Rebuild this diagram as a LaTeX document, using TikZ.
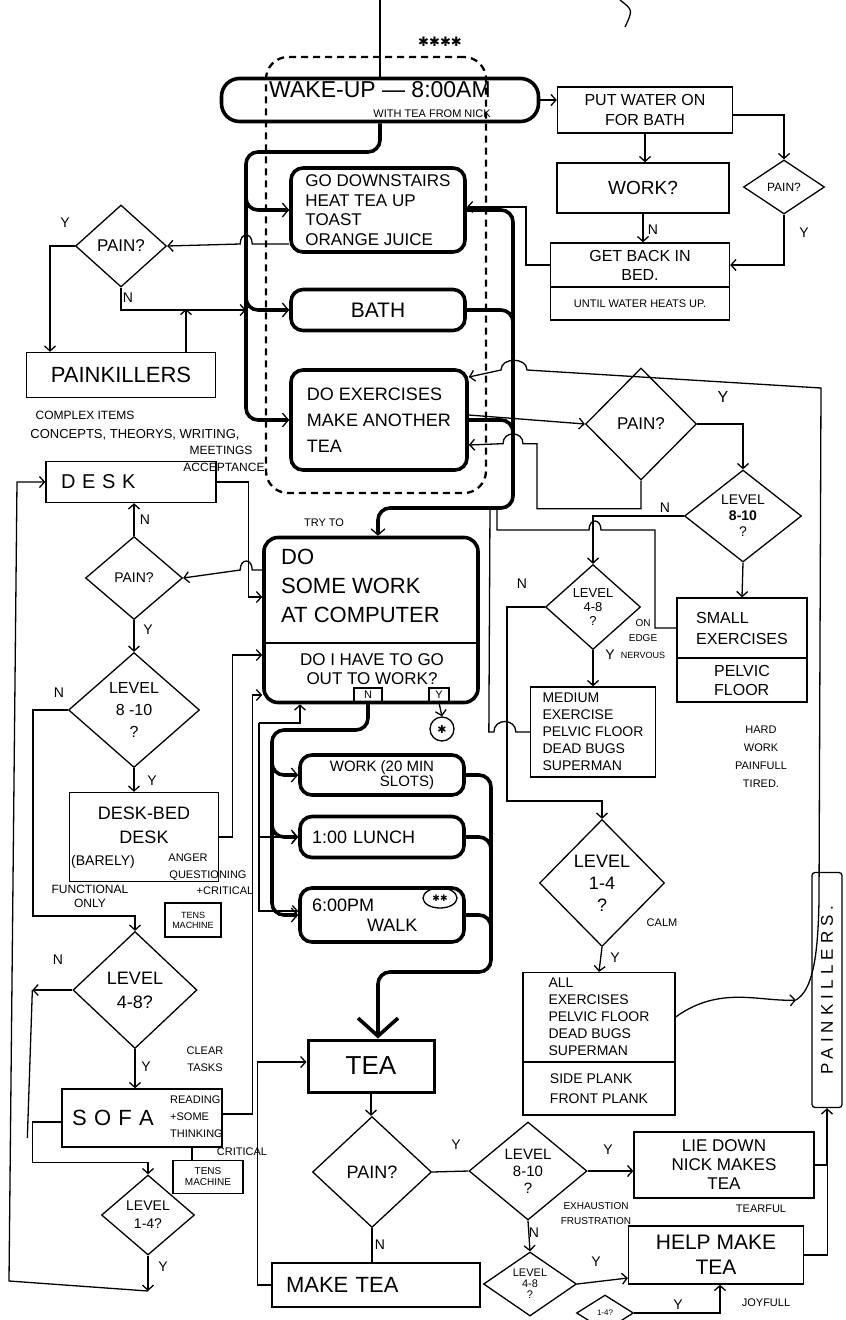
\documentclass[tikz,border=0pt]{standalone}
\usepackage{graphicx}
\usepackage{fontspec}
\setmainfont{Liberation Sans}
\newfontfamily\symfont{DejaVu Sans}
\usetikzlibrary{shapes.geometric,arrows.meta}
\newcommand{\hw}[2]{\fontsize{#1}{#2}\selectfont}

\begin{document}
\begin{tikzpicture}[%
      x=1pt,y=-1pt,
      wire/.style={line width=1.3pt},
      fatwire/.style={line width=3.6pt, rounded corners=12pt},
      tip/.style={-{Straight Barb[length=5pt,width=11pt]}},
      fattip/.style={-{Straight Barb[length=6pt,width=14pt,line width=1.3pt]}},
      bigtip/.style={-{Straight Barb[length=18pt,width=40pt]}},
      box/.style={draw, line width=1.3pt, inner sep=2pt, align=center},
      bigbox/.style={draw, line width=3.6pt, rounded corners=12pt, inner sep=3pt, align=center},
      dia/.style={diamond, draw, line width=1.3pt, inner sep=0pt, align=center},
      yn/.style={font=\hw{14}{14}, inner sep=0pt},
      note/.style={font=\hw{11}{13}, inner sep=0pt, align=center},
      ]
      \useasboundingbox (0,0) rectangle (846,1320);
      \clip (0,0) rectangle (846,1320);

      \node[draw, line width=2.3pt, dash pattern=on 7pt off 5pt, rounded corners=22pt,
            minimum width=220pt, minimum height=436pt] (morning) at (376,275) {};
      \node[font=\symfont\hw{13}{13}] (stars) at (440,42) {✱✱✱✱};
      \coordinate (top) at (380,0);
      \draw[wire] (620,0) .. controls (633,10) .. (625,27);

      % morning
      \node[bigbox, rounded corners=18pt, minimum width=317pt, minimum height=43pt, align=right, font=\hw{23}{20}] (wake) at (380,100)
            {WAKE-UP — 8:00AM\\\hw{11}{9}WITH TEA FROM NICK};
      \node[box, minimum width=175pt, minimum height=46pt, font=\hw{16}{20}] (water) at (645,110) {PUT WATER ON\\FOR BATH};
      \node[box, minimum width=172pt, minimum height=50pt, font=\hw{19}{19}] (work) at (643,188) {WORK?};
      \node[dia, minimum width=81pt, minimum height=54pt, font=\hw{12}{12}] (painR) at (784,187) {PAIN?};
      \node[box, minimum width=179pt, minimum height=44pt, font=\hw{16}{19}] (getback) at (640,265) {GET BACK IN\\BED.};
      \node[box, minimum width=179pt, minimum height=33pt, font=\hw{11}{11}] (until) at (640,303.5) {UNTIL WATER HEATS UP.};
      \node[bigbox, minimum width=174pt, minimum height=84pt, align=left, font=\hw{17}{19.5}] (down) at (378,210)
            {GO DOWNSTAIRS\\HEAT TEA UP\\TOAST\\ORANGE JUICE};
      \node[bigbox, minimum width=174pt, minimum height=41pt, font=\hw{21}{21}] (bath) at (378,310) {BATH};
      \node[bigbox, minimum width=176pt, minimum height=100pt, align=left, font=\hw{18}{26}] (exer) at (379,420)
            {DO EXERCISES\\MAKE ANOTHER\\TEA};

      % left column
      \node[dia, minimum width=91pt, minimum height=82pt, font=\hw{17}{17}] (painA) at (121,246) {PAIN?};
      \node[box, minimum width=189pt, minimum height=45pt, font=\hw{22}{22}] (pkA) at (121,375) {PAINKILLERS};
      \node[note, font=\hw{12}{12}] (cplx1) at (85,415) {COMPLEX ITEMS};
      \node[note, font=\hw{13}{13}] (cplx2) at (135,435) {CONCEPTS, THEORYS, WRITING,};
      \node[note, font=\hw{12}{12}] (cplx3) at (221,450) {MEETINGS};
      \node[note, font=\hw{12}{12}] (cplx4) at (224,467) {ACCEPTANCE};
      \node[box, minimum width=170pt, minimum height=41pt, text width=140pt, align=left, font=\hw{20}{20}] (desk) at (131,482) {D E S K};
      \node[dia, minimum width=97pt, minimum height=83pt, font=\hw{14}{14}] (painB) at (134,578) {PAIN?};
      \node[dia, minimum width=131pt, minimum height=115pt, font=\hw{16}{22}] (levA) at (134,710) {LEVEL\\8 -10\\?};
      \node[box, minimum width=149pt, minimum height=89pt, font=\hw{18}{24}] (deskbed) at (144,837) {DESK-BED\\DESK\\\mbox{}};
      \node[note, font=\hw{14}{14}] (barely) at (103,862) {(BARELY)};
      \node[note] (anger) at (188,858) {ANGER};
      \node[note] (quest) at (208,876) {QUESTIONING};
      \node[note] (crit) at (225,891) {+CRITICAL};
      \node[note, font=\hw{12}{14}] (funct) at (90,896) {FUNCTIONAL\\ONLY};
      \node[box, minimum width=56pt, minimum height=34pt, inner sep=1pt, font=\hw{9}{10}] (tensA) at (193,920) {TENS\\MACHINE};
      \node[dia, minimum width=124pt, minimum height=117pt, font=\hw{18}{24}] (levB) at (135,990) {LEVEL\\4-8?};
      \node[note, font=\hw{11}{17}] (clear) at (205,1059) {CLEAR\\TASKS};
      \node[box, minimum width=160pt, minimum height=58pt, text width=140pt, align=left, font=\hw{22}{22}] (sofa) at (142,1118) {S O F A};
      \node[note, font=\hw{11}{17}, align=left, anchor=west] (reading) at (170,1117) {READING\\+SOME\\THINKING};
      \node[note] (crit2) at (242,1152) {CRITICAL};
      \node[box, minimum width=70pt, minimum height=33pt, inner sep=1pt, font=\hw{10}{11}] (tensB) at (208,1177) {TENS\\MACHINE};
      \node[dia, minimum width=93pt, minimum height=80pt, font=\hw{14}{18}] (levC) at (148,1215) {LEVEL\\1-4?};

      % centre
      \node[note] (tryto) at (324,523) {TRY TO};
      \node[bigbox, rounded corners=14pt, minimum width=214pt, minimum height=165pt] (dowork) at (371,620) {};
      \node[font=\hw{22}{29}, align=left, anchor=north west, inner sep=0pt] (doworkt) at (281,549) {DO\\SOME WORK\\AT COMPUTER};
      \coordinate (divL) at (265,643);
      \coordinate (divR) at (477,643);
      \draw[line width=1.6pt] (divL) -- (divR);
      \node[font=\hw{17}{19}, align=center, inner sep=0pt] (doworkq) at (372,669) {DO I HAVE TO GO\\OUT TO WORK?};
      \node[box, minimum width=28pt, minimum height=14pt, inner sep=0pt, font=\hw{11}{11}] (nbox) at (368,695) {N};
      \node[box, minimum width=20pt, minimum height=14pt, inner sep=0pt, font=\hw{11}{11}] (ybox) at (439,695) {Y};
      \node[draw, circle, line width=1.3pt, minimum size=24pt, inner sep=0pt, font=\symfont\hw{11}{11}] (star) at (442,729) {✱};
      \node[bigbox, minimum width=164pt, minimum height=40pt, align=right, font=\hw{15}{13}] (slots) at (382,775) {WORK (20 MIN\\SLOTS)};
      \node[bigbox, minimum width=164pt, minimum height=41pt, text width=140pt, align=left, font=\hw{18}{18}] (lunch) at (382,837) {1:00 LUNCH};
      \node[bigbox, minimum width=164pt, minimum height=54pt, text width=140pt, align=left, font=\hw{18}{20}] (walk) at (382,915) {6:00PM\\\hspace*{55pt}WALK};
      \node[draw, ellipse, line width=1.3pt, inner sep=1pt, minimum width=34pt, minimum height=20pt, font=\symfont\hw{9}{9}] (walkstars) at (440,898) {✱✱};
      \node[draw, line width=3pt, minimum width=126pt, minimum height=52pt, font=\hw{26}{26}] (tea) at (371,1066) {TEA};
      \node[dia, minimum width=119pt, minimum height=111pt, font=\hw{18}{18}] (painC) at (372,1172) {PAIN?};
      \node[box, minimum width=208pt, minimum height=44pt, text width=180pt, align=left, font=\hw{22}{22}] (maketea) at (376,1285) {MAKE TEA};

      % right column
      \node[dia, minimum width=111pt, minimum height=112pt, font=\hw{17}{17}] (painD) at (641,424) {PAIN?};
      \node[dia, minimum width=117pt, minimum height=92pt, font=\hw{14}{16}] (levD) at (743,516) {LEVEL\\\textbf{8-10}\\?};
      \node[box, minimum width=130pt, minimum height=60pt, align=left, font=\hw{16}{21}] (small) at (742,628) {SMALL\\EXERCISES};
      \node[box, minimum width=130pt, minimum height=44pt, align=left, font=\hw{16}{19}] (smallb) at (742,680) {PELVIC\\FLOOR};
      \node[dia, minimum width=95pt, minimum height=85pt, font=\hw{13}{14}] (levE) at (593,607) {LEVEL\\4-8\\?};
      \node[note, font=\hw{10}{15}] (onedge) at (643,631) {ON\\EDGE};
      \node[note, font=\hw{9}{9}] (nervous) at (643,655) {NERVOUS};
      \node[box, minimum width=125pt, minimum height=90pt, align=left, font=\hw{14}{17}] (medium) at (593,732)
            {MEDIUM\\EXERCISE\\PELVIC FLOOR\\DEAD BUGS\\SUPERMAN};
      \node[note, font=\hw{11}{18}] (hard) at (761,757) {HARD\\WORK\\PAINFULL\\TIRED.};
      \node[dia, minimum width=125pt, minimum height=127pt, font=\hw{18}{22}] (levF) at (602,883) {LEVEL\\1-4\\?};
      \node[note] (calm) at (662,923) {CALM};
      \node[box, minimum width=152pt, minimum height=89pt, align=left, font=\hw{14}{17}] (allex) at (599,1017)
            {ALL\\EXERCISES\\PELVIC FLOOR\\DEAD BUGS\\SUPERMAN};
      \node[box, minimum width=152pt, minimum height=53pt, align=left, font=\hw{14}{20}] (planks) at (599,1088.5) {SIDE PLANK\\FRONT PLANK};
      \node[box, minimum width=30pt, minimum height=235pt, rounded corners=3pt, inner sep=0pt] (pkV) at (827,990)
            {\rotatebox{90}{\hw{17}{17}\addfontfeature{LetterSpace=30}PAINKILLERS.}};
      \node[dia, minimum width=118pt, minimum height=98pt, font=\hw{15}{17}] (levG) at (528,1171) {LEVEL\\8-10\\?};
      \node[note, font=\hw{10}{15}] (exhaust) at (596,1214) {EXHAUSTION\\FRUSTRATION};
      \node[box, minimum width=180pt, minimum height=66pt, font=\hw{17}{19}] (liedown) at (724,1165) {LIE DOWN\\NICK MAKES\\TEA};
      \node[note] (tearful) at (761,1209) {TEARFUL};
      \node[box, minimum width=175pt, minimum height=58pt, font=\hw{21}{25}] (helptea) at (716,1255) {HELP MAKE\\TEA};
      \node[dia, minimum width=93pt, minimum height=64pt, font=\hw{11}{11}] (levH) at (530,1284) {LEVEL\\4-8\\?};
      \node[dia, minimum width=57pt, minimum height=36pt, font=\hw{8}{8}] (levI) at (605,1313) {1-4?};
      \node[note] (joyfull) at (766,1303) {JOYFULL};

      % Y / N marks
      \node[yn] (yR) at (804,233) {Y};
      \node[yn] (nW) at (653,230) {N};
      \node[yn] (yA) at (65,223) {Y};
      \node[yn] (nA) at (128,298) {N};
      \node[yn] (nB) at (145,520) {N};
      \node[yn] (yB) at (148,630) {Y};
      \node[yn] (nLA) at (59,693) {N};
      \node[yn] (yLA) at (152,781) {Y};
      \node[yn] (nLB) at (58,960) {N};
      \node[yn] (yLB) at (146,1067) {Y};
      \node[yn] (yLC) at (163,1267) {Y};
      \node[yn, font=\hw{16}{16}] (yD) at (723,397) {Y};
      \node[yn] (nLD) at (665,508) {N};
      \node[yn] (nLE) at (522,584) {N};
      \node[yn] (yLE) at (610,655) {Y};
      \node[yn] (yLF) at (615,958) {Y};
      \node[yn] (yC) at (456,1145) {Y};
      \node[yn] (nC) at (380,1245) {N};
      \node[yn] (yLG) at (608,1150) {Y};
      \node[yn] (nLG) at (534,1233) {N};
      \node[yn] (yLH) at (596,1262) {Y};
      \node[yn] (yLI) at (678,1305) {Y};

      % morning connectors
      \draw[line width=2pt] (top) -- (wake.north);
      \draw[wire,tip] (wake.east) -- (wake.east -| water.west);
      \draw[wire,tip] (water.south) -- (water.south |- work.north);
      \draw[wire,tip] ([yshift=-5pt]water.east) -| (painR.north);
      \draw[wire,tip] (painR.south) |- (getback.east);
      \draw[wire,tip] (work.south) -- (work.south |- getback.north);
      \draw[wire,tip] (getback.west) -- ++(-24,0) |- ([yshift=3pt]down.east);

      \coordinate (ltop) at (246,152);
      \coordinate (lsplit) at (246,172);
      \draw[fatwire,fattip] (wake.south) |- (ltop) -- (ltop |- exer.west) -- (exer.west);
      \draw[fatwire,fattip] (lsplit) |- (down.west);
      \draw[fatwire,fattip] (lsplit) |- (bath.west);

      \coordinate (rjoin) at (513,470);
      \coordinate (rbot) at (513,508);
      \draw[fatwire,fattip] (down.east) -| (rbot) -| ([xshift=7pt]dowork.north);
      \draw[fatwire] (bath.east) -| (rjoin);
      \draw[fatwire] (exer.east) -| (rjoin);

      \draw[wire,tip] ([yshift=-34pt]down.west) -- ++(-37,0) .. controls +(0,-12) and +(0,-12) .. ++(-12,0) -- (painA.east);
      \draw[wire,tip] (painA.west) -| ([xshift=-71pt]pkA.north);
      \draw[wire,tip] (painA.south) |- (lsplit |- bath.west);
      \draw[wire,tip] ([xshift=65pt]pkA.north) -- ++(0,-43);

      % exercise loops
      \coordinate (loopjoin) at (796,1000);
      \draw[wire,tip] (allex.east) .. controls (720,985) and (760,1002) .. (loopjoin);
      \draw[wire,tip] (loopjoin) .. controls (812,990) and (818,960) .. (819,900) -- (821,388) -- (527,370)
            .. controls +(0,-13) and +(0,-13) .. ++(-26,0) -- ([yshift=43pt]exer.east);
      \draw[wire,tip] ([yshift=5pt]exer.east) -- (painD.west);
      \draw[wire,tip] (painD.south) -- ++(0,28) -- ++(-104,0) -- ++(0,-65) -- ++(-14,0)
            .. controls +(0,-13) and +(0,-13) .. ++(-20,0) -- ([yshift=-25pt]exer.east);
      \draw[wire,tip] (painD.east) -| (levD.north);
      \draw[wire,tip] (levD.south) -- (small.north);
      \draw[wire,tip] (levD.west) -| (levE.north);
      \coordinate (tj1) at (497,508);
      \draw[wire] (tj1) -- ++(0,22) -- ++(92,0) .. controls +(0,-12) and +(0,-12) .. ++(12,0) -- ++(54,0) |- (small.west);
      \draw[wire,tip] (levE.west) -- ++(-38,0) |- ([yshift=18pt]levF.north) -- (levF.north);
      \draw[wire,tip] (levE.south) -- (medium.north);
      \coordinate (tj2) at (490,508);
      \draw[wire] (medium.west) -- ++(-14,0) .. controls +(0,-14) and +(0,-14) .. ++(-22,0) -- ++(-5,0) -- (tj2);
      \draw[wire,tip] (levF.south) -- (allex.north);

      % left loops
      \draw[wire,tip] (desk.east) -- ++(32,0) |- ([yshift=23pt]dowork.west);
      \draw[wire,tip] ([yshift=50pt]dowork.west) -- ++(-10,0) .. controls +(0,-12) and +(0,-12) .. ++(-12,0) -- (painB.east);
      \draw[wire,tip] (painB.north) -- (painB.north |- desk.south);
      \draw[wire,tip] (painB.south) -- (levA.north);
      \draw[wire,tip] (levA.south) -- (levA.south |- deskbed.north);
      \draw[wire,tip] (levA.west) -- ++(-35,0) |- ([yshift=15pt]levB.north) -- (levB.north);
      \draw[wire,tip] (deskbed.east) -- ++(13,0) |- ([yshift=-35pt]dowork.west);
      \draw[wire,tip] ([yshift=4pt]sofa.east) -- ++(30,0) |- ([yshift=-75pt]dowork.west);
      \draw[wire,tip] (levB.south) -- (levB.south |- sofa.north);
      \draw[wire,tip] (levB.west) -- ++(-40,0);
      \draw[wire] ([xshift=-40pt]levB.west) -- ++(-5,148);
      \draw[wire,tip] ([yshift=-4pt]sofa.west) -- ++(-29,0) |- ([yshift=12pt]levC.north) -- (levC.north);
      \draw[wire] ([xshift=-16pt]tensB.north) -- ++(0,-13);
      \coordinate (outerbot) at (148,1291);
      \draw[wire,tip] (levC.south) -- (outerbot);
      \draw[wire,tip] (outerbot) -- (9,1281) -- (17,482) -- (desk.west);

      % work day
      \draw[wire,tip] (ybox.south) -- (star.north);
      \coordinate (ntrunk) at (272,730);
      \coordinate (nsplit) at (272,745);
      \draw[fatwire,fattip] (nbox.south) |- (ntrunk) |- (walk.west);
      \draw[fatwire,fattip] (nsplit) |- (slots.west);
      \draw[fatwire,fattip] (nsplit) |- (lunch.west);
      \coordinate (cjoin) at (491,940);
      \coordinate (cbot) at (491,972);
      \draw[fatwire,bigtip] (walk.east) -| (cbot) -| ([xshift=7pt]tea.north);
      \draw[fatwire] (slots.east) -| (cjoin);
      \draw[fatwire] (lunch.east) -| (cjoin);
      \coordinate (thinL) at (259,723);
      \draw[wire,tip] (thinL) -| ([xshift=-71pt]dowork.south);
      \draw[wire,tip] (thinL) |- ([yshift=4pt]walk.west);
      \draw[wire,tip] (thinL |- lunch.west) -- (lunch.west);

      % tea
      \draw[wire,tip] (tea.south) -- (tea.south |- painC.north);
      \draw[wire] (painC.south) -- (painC.south |- maketea.north);
      \draw[wire,tip] (maketea.west) -- ++(-14,0) |- ([yshift=4pt]tea.west);
      \draw[wire] (painC.east) -- (levG.west);
      \draw[wire,tip] (levG.east) -- (levG.east -| liedown.west);
      \draw[wire,tip] (levG.south) -- (levH.north);
      \draw[wire,tip] (levH.east) -- ([yshift=-23pt]helptea.west);
      \draw[wire,tip] (levI.east) -| ([xshift=4pt]helptea.south);
      \draw[wire,tip] (liedown.east) -| (pkV.south);
      \draw[wire] (helptea.east) -- ++(23,0) -- ++(0,-90);
\end{tikzpicture}
\end{document}
